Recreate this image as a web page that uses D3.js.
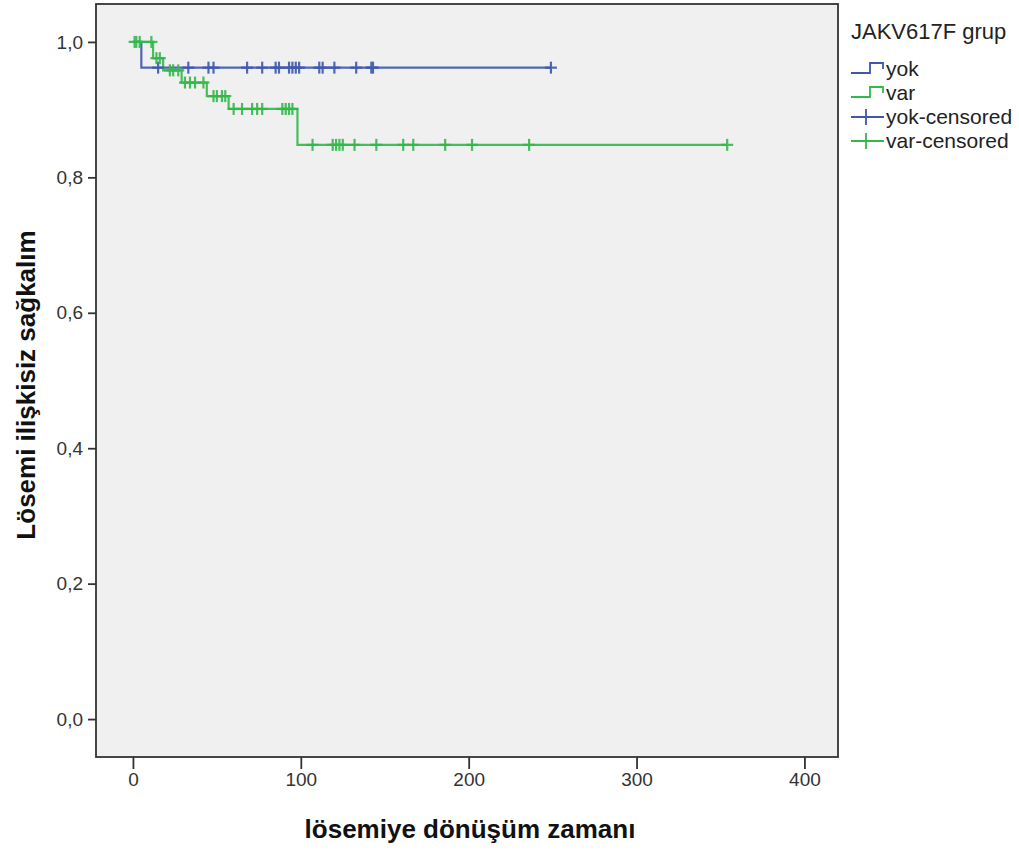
<!DOCTYPE html>
<html>
<head>
<meta charset="utf-8">
<script src="https://cdn.jsdelivr.net/npm/d3@7"></script>
<style>
  html, body { margin: 0; padding: 0; background: #ffffff; }
  svg { display: block; }
</style>
</head>
<body>
<svg id="chart" width="1019" height="850"></svg>
<script>
// Kaplan–Meier survival steps per group: [time, survival after the event]
const yokSteps = [[0, 1.0], [5, 0.962]];
const yokEnd = 249;
const varSteps = [[0, 1.0], [12, 0.976], [18, 0.958], [29, 0.940], [44, 0.920], [57, 0.901], [98, 0.848]];
const varEnd = 354;

// Censored observation times per group
const yokCensored = [15, 33, 45, 48, 68, 77, 85, 87, 93, 95, 97, 99, 111, 113, 120, 133, 142, 143, 249];
const varCensored = [1, 2, 4, 11, 14, 16, 22, 24, 27, 31, 34, 37, 42, 48, 50, 53, 55,
  60, 65, 71, 74, 77, 89, 91, 93, 95, 107, 119, 121, 123, 125, 132, 145, 161, 167, 186, 202, 236, 354];

const xTicks = [0, 100, 200, 300, 400];
const yTicks = [0, 0.2, 0.4, 0.6, 0.8, 1.0];

const groups = ["yok", "var"];
const groupColors = ["#3e58ac", "#33b84a"];
const legendTitle = "JAKV617F grup";
const legendLabels = ["yok", "var", "yok-censored", "var-censored"];
const xTitle = "lösemiye dönüşüm zamanı";
const yTitle = "Lösemi ilişkisiz sağkalım";

const FONT = "'Liberation Sans', Arial, sans-serif";
const svg = d3.select("#chart");
const plot = { left: 96, top: 4, right: 838, bottom: 757 };

const x = d3.scaleLinear().domain([-22, 420]).range([plot.left, plot.right]);
const y = d3.scaleLinear().domain([-0.056, 1.056]).range([plot.bottom, plot.top]);

// plot background
svg.append("rect")
  .attr("x", plot.left).attr("y", plot.top)
  .attr("width", plot.right - plot.left).attr("height", plot.bottom - plot.top)
  .attr("fill", "#f0f0f0");

const fmt = d => d3.format(".1f")(d).replace(".", ",");

// axes
const yAxis = svg.append("g")
  .attr("transform", `translate(${plot.left},0)`)
  .call(d3.axisLeft(y).tickValues(yTicks).tickFormat(fmt).tickSize(8).tickPadding(5));
const xAxis = svg.append("g")
  .attr("transform", `translate(0,${plot.bottom})`)
  .call(d3.axisBottom(x).tickValues(xTicks).tickFormat(d3.format("d")).tickSize(12).tickPadding(4));
[yAxis, xAxis].forEach(g => {
  g.select(".domain").remove();
  g.selectAll(".tick line").attr("stroke", "#333").attr("stroke-width", 1.8);
  g.selectAll(".tick text")
    .attr("fill", "#333")
    .style("font-family", FONT)
    .style("font-size", "19px");
});

// step function lookup for placing censor marks
function survivalAt(steps, t) {
  let s = steps[0][1];
  for (const [ti, si] of steps) if (ti <= t) s = si;
  return s;
}

const stepLine = d3.line().x(d => x(d[0])).y(d => y(d[1])).curve(d3.curveStepAfter);
const series = [
  { steps: yokSteps, end: yokEnd, censored: yokCensored, color: groupColors[0] },
  { steps: varSteps, end: varEnd, censored: varCensored, color: groupColors[1] }
];

series.forEach(s => {
  const pts = s.steps.concat([[s.end, s.steps[s.steps.length - 1][1]]]);
  svg.append("path")
    .attr("d", stepLine(pts))
    .attr("fill", "none")
    .attr("stroke", s.color)
    .attr("stroke-width", 2.2)
    .attr("opacity", 0.9);
});

series.forEach(s => {
  const g = svg.append("g").attr("stroke", s.color).attr("stroke-width", 2.2).attr("opacity", 0.9);
  s.censored.forEach(t => {
    const cx = x(t), cy = y(survivalAt(s.steps, t));
    g.append("line").attr("x1", cx).attr("x2", cx).attr("y1", cy - 6).attr("y2", cy + 6);
    g.append("line").attr("x1", cx - 6).attr("x2", cx + 6).attr("y1", cy).attr("y2", cy);
  });
});

// frame
svg.append("rect")
  .attr("x", plot.left).attr("y", plot.top)
  .attr("width", plot.right - plot.left).attr("height", plot.bottom - plot.top)
  .attr("fill", "none").attr("stroke", "#333").attr("stroke-width", 1.8);

// axis titles
svg.append("text")
  .attr("x", 470).attr("y", 838)
  .attr("text-anchor", "middle")
  .attr("fill", "#111")
  .style("font-family", FONT)
  .style("font-weight", "bold")
  .style("font-size", "26px")
  .text(xTitle);
svg.append("text")
  .attr("transform", "translate(35,385) rotate(-90)")
  .attr("text-anchor", "middle")
  .attr("fill", "#111")
  .style("font-family", FONT)
  .style("font-weight", "bold")
  .style("font-size", "26px")
  .text(yTitle);

// legend
const lg = svg.append("g").style("font-family", FONT);
lg.append("text").attr("x", 851).attr("y", 39).attr("fill", "#222")
  .style("font-size", "22px").text(legendTitle);
const rowY = [69, 93, 117, 141];
legendLabels.forEach((lab, i) => {
  const cy = rowY[i];
  const color = groupColors[i % 2];
  if (i < 2) {
    lg.append("path")
      .attr("d", `M851,${cy + 4}H870V${cy - 6}H883V${cy}`)
      .attr("fill", "none").attr("stroke", color).attr("stroke-width", 1.8);
  } else {
    lg.append("line").attr("x1", 851).attr("x2", 884).attr("y1", cy).attr("y2", cy)
      .attr("stroke", color).attr("stroke-width", 1.8);
    lg.append("line").attr("x1", 866).attr("x2", 866).attr("y1", cy - 8).attr("y2", cy + 8)
      .attr("stroke", color).attr("stroke-width", 1.8);
  }
  lg.append("text").attr("x", 886).attr("y", cy + 7).attr("fill", "#222")
    .style("font-size", "21px").text(lab);
});
</script>
</body>
</html>
